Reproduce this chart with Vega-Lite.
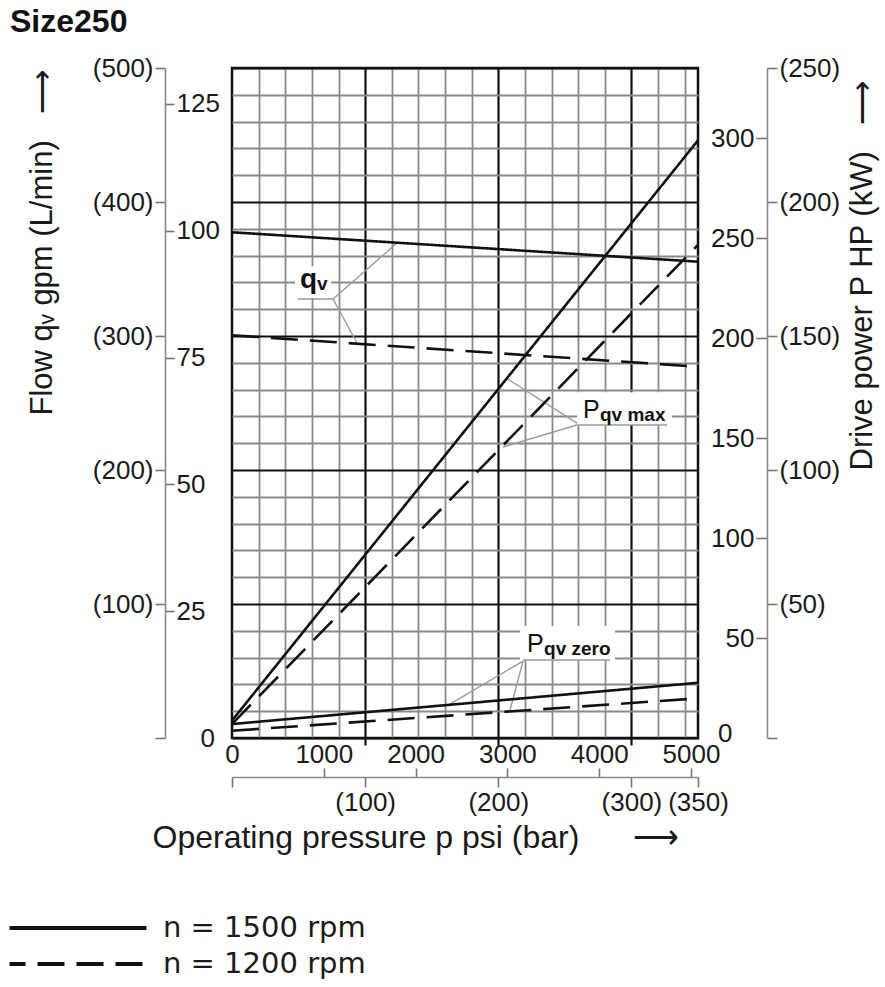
{
  "$schema": "https://vega.github.io/schema/vega-lite/v6.json",
  "width": 466,
  "height": 670,
  "autosize": "none",
  "padding": {"left": 232, "top": 68, "right": 187, "bottom": 249},
  "background": "white",
  "title": {"text": "Size250", "anchor": "start", "frame": "group", "dx": -222, "offset": -9, "baseline": "alphabetic", "fontSize": 32, "fontWeight": "bold", "font": "Liberation Sans", "color": "#111"},
  "config": {
    "view": {"stroke": "#111", "strokeWidth": 2.5},
    "font": "Liberation Sans",
    "axis": {"labelFont": "Liberation Sans", "labelFontSize": 26, "labelColor": "#1a1a1a", "titleFont": "Liberation Sans", "titleFontSize": 31, "titleFontWeight": "normal", "titleColor": "#1a1a1a", "labelOverlap": false, "labelFlush": false, "labelBound": false}
  },
  "datasets": {
    "qv_lines": [
      {"rpm": "n = 1500 rpm", "p_bar": 0, "gpm": 99.7},
      {"rpm": "n = 1500 rpm", "p_bar": 350, "gpm": 93.9},
      {"rpm": "n = 1200 rpm", "p_bar": 0, "gpm": 79.4},
      {"rpm": "n = 1200 rpm", "p_bar": 350, "gpm": 73.2}
    ],
    "power_lines": [
      {"curve": "P qv max", "rpm": "n = 1500 rpm", "p_bar": 0, "kW": 6.5},
      {"curve": "P qv max", "rpm": "n = 1500 rpm", "p_bar": 350, "kW": 223},
      {"curve": "P qv max", "rpm": "n = 1200 rpm", "p_bar": 0, "kW": 5.2},
      {"curve": "P qv max", "rpm": "n = 1200 rpm", "p_bar": 350, "kW": 184},
      {"curve": "P qv zero", "rpm": "n = 1500 rpm", "p_bar": 0, "kW": 5.2},
      {"curve": "P qv zero", "rpm": "n = 1500 rpm", "p_bar": 350, "kW": 20.6},
      {"curve": "P qv zero", "rpm": "n = 1200 rpm", "p_bar": 0, "kW": 2.7},
      {"curve": "P qv zero", "rpm": "n = 1200 rpm", "p_bar": 350, "kW": 14.8}
    ],
    "qv_note_box": [{"p_bar": 47.3, "p_bar_end": 74.4, "lmin": 328.4, "lmin_end": 352}],
    "qv_note_lines": [
      {"p_bar": 49.6, "lmin": 327.6, "p_bar_end": 75.9, "lmin_end": 327.6},
      {"p_bar": 75.9, "lmin": 327.6, "p_bar_end": 123.9, "lmin_end": 369.4},
      {"p_bar": 75.9, "lmin": 327.6, "p_bar_end": 93.9, "lmin_end": 294.8}
    ],
    "qv_note_text": [{"main": "q", "sub": "v", "p_bar": 51.1, "lmin": 335.8}],
    "p_note_box": [
      {"p_bar": 259.1, "p_bar_end": 330.5, "hp": 156.6, "hp_end": 173},
      {"p_bar": 216.3, "p_bar_end": 287.7, "hp": 39, "hp_end": 56}
    ],
    "p_note_lines": [
      {"p_bar": 259.1, "hp": 156.6, "p_bar_end": 326.7, "hp_end": 156.6},
      {"p_bar": 259.1, "hp": 157.6, "p_bar_end": 207.3, "hp_end": 179.5},
      {"p_bar": 259.1, "hp": 156.6, "p_bar_end": 203.5, "hp_end": 145.6},
      {"p_bar": 218.6, "hp": 39, "p_bar_end": 283.9, "hp_end": 39},
      {"p_bar": 218.6, "hp": 38.5, "p_bar_end": 163.7, "hp_end": 17},
      {"p_bar": 218.6, "hp": 38.5, "p_bar_end": 208.8, "hp_end": 14}
    ],
    "p_note_text": [
      {"main": "P", "sub": "qv max", "p_bar": 263.6, "hp": 160.1},
      {"main": "P", "sub": "qv zero", "p_bar": 221.6, "hp": 43}
    ]
  },
  "resolve": {"scale": {"x": "independent", "y": "independent"}},
  "layer": [
    {
      "encoding": {
        "x": {"field": "p_bar", "type": "quantitative", "scale": {"domain": [0, 350], "nice": false, "zero": false},
          "axis": {"values": [20, 40, 60, 80, 100, 120, 140, 160, 180, 200, 220, 240, 260, 280, 300, 320, 340],
            "grid": true,
            "gridColor": {"condition": {"test": "datum.value % 100 === 0", "value": "#111"}, "value": "#8a8a8a"},
            "gridWidth": {"condition": {"test": "datum.value % 100 === 0", "value": 2.2}, "value": 1.8},
            "labels": false, "domain": false, "ticks": true, "tickSize": 7, "tickColor": "#111", "tickWidth": 2.2,
            "tickOpacity": {"condition": {"test": "datum.value % 100 === 0", "value": 1}, "value": 0},
            "title": null}},
        "y": {"field": "lmin", "type": "quantitative", "scale": {"domain": [0, 500], "nice": false, "zero": false},
          "axis": {"orient": "left", "offset": 67,
            "values": [0, 20, 40, 60, 80, 100, 120, 140, 160, 180, 200, 220, 240, 260, 280, 300, 320, 340, 360, 380, 400, 420, 440, 460, 480, 500],
            "grid": true,
            "gridColor": {"condition": {"test": "datum.value % 100 === 0", "value": "#111"}, "value": "#8a8a8a"},
            "gridWidth": {"condition": {"test": "datum.value % 100 === 0", "value": 2.2}, "value": 1.8},
            "domain": true, "domainColor": "#8a8a8a", "domainWidth": 1.6,
            "ticks": true, "tickSize": 10, "tickColor": "#777", "tickWidth": 1.6,
            "tickOpacity": {"condition": {"test": "datum.value % 100 === 0", "value": 1}, "value": 0},
            "labelExpr": "datum.value > 0 && datum.value % 100 === 0 ? '(' + datum.value + ')' : ''",
            "labelPadding": 2,
            "title": "Flow qᵥ gpm (L/min)\u00a0\u00a0\u00a0⟶",
            "titleX": -123, "titleY": 347, "titleAngle": 270, "titleAlign": "left", "titleBaseline": "middle"}}
      },
      "layer": [
        {"data": {"name": "qv_note_box"}, "mark": {"type": "rect", "fill": "white", "strokeWidth": 0},
          "encoding": {"x2": {"field": "p_bar_end"}, "y2": {"field": "lmin_end"}}},
        {"data": {"name": "qv_note_lines"}, "mark": {"type": "rule", "color": "#9a9a9a", "strokeWidth": 1.4},
          "encoding": {"x2": {"field": "p_bar_end"}, "y2": {"field": "lmin_end"}}},
        {"data": {"name": "qv_note_text"}, "mark": {"type": "text", "align": "left", "baseline": "alphabetic", "fontSize": 28, "fontWeight": "bold", "color": "#111"},
          "encoding": {"text": {"field": "main"}}},
        {"data": {"name": "qv_note_text"}, "mark": {"type": "text", "align": "left", "baseline": "alphabetic", "fontSize": 19, "fontWeight": "bold", "dx": 17, "dy": 2, "color": "#111"},
          "encoding": {"text": {"field": "sub"}}}
      ]
    },
    {
      "data": {"name": "qv_lines"},
      "mark": {"type": "line", "color": "#111", "strokeWidth": 2.6},
      "encoding": {
        "x": {"field": "p_bar", "type": "quantitative", "scale": {"domain": [0, 350], "nice": false, "zero": false},
          "axis": {"orient": "bottom", "offset": 0,
            "values": [0, 68.9476, 137.8951, 206.8427, 275.7903, 344.7379],
            "labelExpr": "format(round(datum.value * 14.5038 / 1000) * 1000, 'd')",
            "domain": false, "ticks": false, "grid": false, "labelPadding": 3, "title": null}},
        "y": {"field": "gpm", "type": "quantitative", "scale": {"domain": [0, 132.086], "nice": false, "zero": false},
          "axis": {"orient": "right", "offset": -533, "values": [0, 25, 50, 75, 100, 125],
            "domain": false, "grid": false, "tickSize": 9, "tickColor": "#777", "tickWidth": 1.6,
            "tickOpacity": {"condition": {"test": "datum.value === 0", "value": 0}, "value": 1},
            "labelPadding": {"condition": {"test": "datum.value === 0", "value": 26}, "value": 2},
            "title": null}},
        "strokeDash": {"field": "rpm", "type": "nominal",
          "scale": {"domain": ["n = 1500 rpm", "n = 1200 rpm"], "range": [[1, 0], [27, 12]]},
          "legend": {"orient": "none", "legendX": -168.5, "legendY": 845.5, "title": null, "direction": "vertical",
            "symbolType": "M-6.85,0H6.85", "symbolSize": 400, "symbolStrokeWidth": 4, "symbolStrokeColor": "#111",
            "labelFont": "DejaVu Sans", "labelFontSize": 29, "labelColor": "#1a1a1a", "labelOffset": 70.5, "labelLimit": 0, "rowPadding": 6,
            "encode": {"symbols": {"update": {"strokeDash": {"signal": "datum.value === 'n = 1200 rpm' ? [23, 22] : [1, 0]"}, "strokeDashOffset": {"value": 11}}}}}}
      }
    },
    {
      "encoding": {
        "x": {"field": "p_bar", "type": "quantitative", "scale": {"domain": [0, 350], "nice": false, "zero": false},
          "axis": {"orient": "bottom", "offset": 39,
            "values": [0, 68.9476, 100, 137.8951, 200, 206.8427, 275.7903, 300, 344.7379, 350],
            "domain": true, "domainColor": "#8a8a8a", "domainWidth": 1.6,
            "ticks": true, "tickColor": "#777", "tickWidth": 1.6,
            "tickSize": {"condition": {"test": "datum.value % 50 === 0", "value": 10}, "value": -9},
            "labelExpr": "datum.value > 0 && datum.value % 50 === 0 ? '(' + datum.value + ')' : ''",
            "labelPadding": 2, "grid": false,
            "title": "Operating pressure p psi (bar)\u00a0\u00a0\u00a0\u00a0\u00a0\u00a0⟶",
            "titleFontSize": 32,
            "titleX": -80, "titleY": 70, "titleAlign": "left", "titleBaseline": "alphabetic"}},
        "y": {"field": "hp", "type": "quantitative", "scale": {"domain": [0, 335.25], "nice": false, "zero": false},
          "axis": {"orient": "left", "offset": -535, "values": [0, 50, 100, 150, 200, 250, 300],
            "domain": false, "grid": false, "tickSize": 11, "tickColor": "#777", "tickWidth": 1.6,
            "tickOpacity": {"condition": {"test": "datum.value === 0", "value": 0}, "value": 1},
            "labelPadding": {"condition": {"test": "datum.value === 0", "value": 24}, "value": 2},
            "labelOffset": {"condition": {"test": "datum.value === 0", "value": -5}, "value": 0},
            "title": null}}
      },
      "layer": [
        {"data": {"name": "p_note_box"}, "mark": {"type": "rect", "fill": "white", "strokeWidth": 0},
          "encoding": {"x2": {"field": "p_bar_end"}, "y2": {"field": "hp_end"}}},
        {"data": {"name": "p_note_lines"}, "mark": {"type": "rule", "color": "#9a9a9a", "strokeWidth": 1.4},
          "encoding": {"x2": {"field": "p_bar_end"}, "y2": {"field": "hp_end"}}},
        {"data": {"name": "p_note_text"}, "mark": {"type": "text", "align": "left", "baseline": "alphabetic", "fontSize": 25, "color": "#111"},
          "encoding": {"text": {"field": "main"}}},
        {"data": {"name": "p_note_text"}, "mark": {"type": "text", "align": "left", "baseline": "alphabetic", "fontSize": 19, "fontWeight": "bold", "dx": 17, "dy": 3, "color": "#111"},
          "encoding": {"text": {"field": "sub"}}}
      ]
    },
    {
      "data": {"name": "power_lines"},
      "mark": {"type": "line", "color": "#111", "strokeWidth": 2.6},
      "encoding": {
        "x": {"field": "p_bar", "type": "quantitative", "scale": {"domain": [0, 350], "nice": false, "zero": false}, "axis": null},
        "y": {"field": "kW", "type": "quantitative", "scale": {"domain": [0, 250], "nice": false, "zero": false},
          "axis": {"orient": "right", "offset": 69, "values": [0, 50, 100, 150, 200, 250],
            "domain": true, "domainColor": "#8a8a8a", "domainWidth": 1.6, "grid": false,
            "tickSize": 10, "tickColor": "#777", "tickWidth": 1.6,
            "labelExpr": "datum.value > 0 ? '(' + datum.value + ')' : ''",
            "labelPadding": 2,
            "title": "Drive power P HP (kW)\u00a0\u00a0\u00a0⟶",
            "titleX": 95, "titleY": 402, "titleAngle": 270, "titleAlign": "left", "titleBaseline": "middle"}},
        "detail": {"field": "curve"},
        "strokeDash": {"field": "rpm", "type": "nominal",
          "scale": {"domain": ["n = 1500 rpm", "n = 1200 rpm"], "range": [[1, 0], [27, 12]]},
          "legend": {"orient": "none", "legendX": -168.5, "legendY": 845.5, "title": null, "direction": "vertical",
            "symbolType": "M-6.85,0H6.85", "symbolSize": 400, "symbolStrokeWidth": 4, "symbolStrokeColor": "#111",
            "labelFont": "DejaVu Sans", "labelFontSize": 29, "labelColor": "#1a1a1a", "labelOffset": 70.5, "labelLimit": 0, "rowPadding": 6,
            "encode": {"symbols": {"update": {"strokeDash": {"signal": "datum.value === 'n = 1200 rpm' ? [23, 22] : [1, 0]"}, "strokeDashOffset": {"value": 11}}}}}}
      }
    }
  ]
}
